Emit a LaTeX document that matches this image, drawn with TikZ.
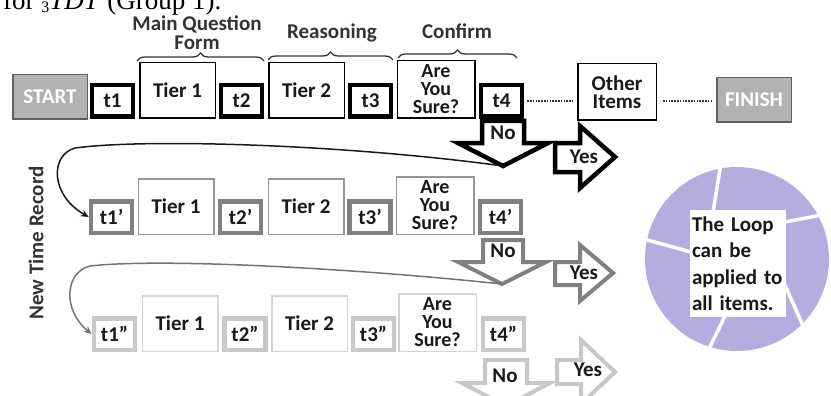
\documentclass[tikz,border=0pt]{standalone}
\usepackage{fontspec}
\setmainfont{Carlito}
\newfontfamily\capfont{Liberation Serif}
\usetikzlibrary{arrows.meta,decorations.pathreplacing}
\definecolor{boxgray}{RGB}{178,178,178}
\definecolor{edgegray}{RGB}{95,95,95}
\definecolor{rowtwo}{RGB}{128,128,128}
\definecolor{rowthree}{RGB}{200,200,200}
\definecolor{tiertwo}{RGB}{150,150,150}
\definecolor{tierthree}{RGB}{212,212,212}
\definecolor{loopc}{RGB}{180,174,224}
\definecolor{inkc}{RGB}{25,25,25}
\begin{document}
\begin{tikzpicture}[x=1pt,y=-1pt,
  lbl/.style={font=\bfseries\fontsize{21}{18}\selectfont, align=center, inner sep=0pt, text=inkc},
  tb/.style={lbl, line width=4.5pt, fill=white, minimum width=41pt, minimum height=31.5pt},
  tier/.style={lbl, line width=1.5pt, fill=white, minimum width=75.5pt, minimum height=55.5pt},
  ays/.style={tier, font=\bfseries\fontsize{20}{18}\selectfont, minimum width=77.5pt, minimum height=57.5pt},
  endbox/.style={lbl, draw=edgegray, line width=1.5pt, fill=boxgray, text=white, minimum width=74.5pt, minimum height=44.5pt},
  blkA/.style={draw=black, line width=4.5pt, fill=white},
  blkB/.style={draw=rowtwo, line width=4pt, fill=white},
  blkC/.style={draw=rowthree, line width=4pt, fill=white},
  dotl/.style={line width=1.6pt, dash pattern=on 1.6pt off 1.2pt, draw=black!80},
  brc/.style={decorate, decoration={brace, amplitude=8pt}, line width=1.3pt, draw=black!80},
  loopline/.style={line width=1.5pt, -{Stealth[length=8pt,width=7pt]}}
]
\useasboundingbox (0,0) rectangle (831,396);
\clip (0,0) rectangle (831,396);

% caption fragment
\node[anchor=base west, inner sep=0pt, font=\capfont\fontsize{27}{27}\selectfont] (cap) at (3,10)
  {for {\fontsize{16}{16}\selectfont\raisebox{-3pt}{3}}\textit{TDT} (Group 1).};

% ---------- row 1 ----------
\node[endbox] (start) at (50,97) {START};
\node[tb, draw=black] (t1) at (112.5,101) {t1};
\node[tier, draw=black] (a1) at (177.5,90.5) {Tier 1};
\node[tb, draw=black] (t2) at (241.5,101) {t2};
\node[tier, draw=black] (b1) at (306.5,90.5) {Tier 2};
\node[tb, draw=black] (t3) at (370.5,101) {t3};
\node[ays, draw=black] (c1) at (436,89.5) {Are\\You\\Sure?};
\node[tb, draw=black] (t4) at (501.5,101) {t4};
\node[tier, draw=black, minimum width=78.5pt, minimum height=56.5pt] (other) at (617,92) {Other\\Items};
\node[endbox] (finish) at (754,100) {FINISH};

\draw[dotl, shorten <=3pt, shorten >=4pt] (t4.east) -- (other.west |- t4.east);
\draw[dotl, shorten <=6pt, shorten >=5pt] (other.east |- t4.east) -- (finish.west |- t4.east);

% braces and headings
\draw[brc] (137,61) -- (264,61);
\draw[brc] (268,60) -- (393,60);
\draw[brc] (398,58) -- (517,58);
\node[lbl, font=\bfseries\fontsize{21}{19}\selectfont, text=black!80] (h1) at (197,32.5) {Main Question\\Form};
\node[lbl, text=black!80] (h2) at (332,33) {Reasoning};
\node[lbl, text=black!80] (h3) at (457,31) {Confirm};

% block arrows row 1
\draw[blkA] (482,121) -- (524,121) -- (524,143) -- (548,143) -- (503,166) -- (458,143) -- (482,143) -- cycle;
\draw[blkA] (555,143) -- (580,143) -- (580,126) -- (615,157) -- (580,188) -- (580,172) -- (555,172) -- cycle;
\node[lbl] (no1) at (503,133) {No};
\node[lbl] (yes1) at (584,157) {Yes};
\coordinate (no1tip) at (503,166);

% ---------- row 2 ----------
\node[tb, draw=rowtwo] (t1p) at (111.5,217) {t1'};
\node[tier, draw=tiertwo] (a2) at (176,206.5) {Tier 1};
\node[tb, draw=rowtwo] (t2p) at (240.5,217) {t2'};
\node[tier, draw=tiertwo] (b2) at (306,206.5) {Tier 2};
\node[tb, draw=rowtwo] (t3p) at (370,217) {t3'};
\node[ays, draw=tiertwo] (c2) at (435,205.5) {Are\\You\\Sure?};
\node[tb, draw=rowtwo] (t4p) at (500.5,217) {t4'};

\draw[blkB] (483,240) -- (523,240) -- (523,262) -- (546,262) -- (502,284) -- (458,262) -- (483,262) -- cycle;
\draw[blkB] (555,262) -- (580,262) -- (580,245) -- (613,273) -- (580,301) -- (580,285) -- (555,285) -- cycle;
\node[lbl] (no2) at (503,251) {No};
\node[lbl] (yes2) at (584,273) {Yes};
\coordinate (no2tip) at (502,284);

% ---------- row 3 ----------
\node[tb, draw=rowthree] (t1pp) at (114.5,334) {t1''};
\node[tier, draw=tierthree] (a3) at (180,323.5) {Tier 1};
\node[tb, draw=rowthree] (t2pp) at (245,334) {t2''};
\node[tier, draw=tierthree] (b3) at (309.5,323.5) {Tier 2};
\node[tb, draw=rowthree] (t3pp) at (373.5,334) {t3''};
\node[ays, draw=tierthree] (c3) at (437.5,322.5) {Are\\You\\Sure?};
\node[tb, draw=rowthree] (t4pp) at (503.5,334) {t4''};

\draw[blkC] (485,360) -- (527,360) -- (527,383) -- (550,383) -- (506,406) -- (462,383) -- (485,383) -- cycle;
\draw[blkC] (557,360) -- (581,360) -- (581,340) -- (615,372) -- (581,404) -- (581,384) -- (557,384) -- cycle;
\node[lbl] (no3) at (505,376) {No};
\node[lbl] (yes3) at (588,370) {Yes};

% ---------- loop-back connectors ----------
\draw[loopline, draw=inkc] (no1tip) .. controls (350,145) and (150,138) .. (75,148)
   .. controls (50,155) and (50,195) .. (t1p.west);
\draw[loopline, draw=rowtwo!90!black] (no2tip) .. controls (350,268) and (160,258) .. (90,266)
   .. controls (65,272) and (62,310) .. (t1pp.west);

% side label
\node[lbl, rotate=90, text=black!80] (ntr) at (36,243) {New Time Record};

% ---------- loop circle ----------
\fill[loopc] (737,259) circle[radius=92pt];
\draw[white, line width=3.5pt] (721,163) -- (713,212);
\draw[white, line width=3.5pt] (832,213) -- (785,222);
\draw[white, line width=3.5pt] (804,328) -- (785,285);
\draw[white, line width=3.5pt] (706,355) -- (725,316);
\draw[white, line width=3.5pt] (640,238) -- (691,252);
\node[lbl, fill=white, align=left, text width=92pt, inner xsep=2pt, inner ysep=0pt,
      minimum height=107pt, font=\bfseries\fontsize{21}{26.5}\selectfont] (loop) at (738,263.5)
  {The Loop\\can be\\applied to\\all items.};
\end{tikzpicture}
\end{document}
